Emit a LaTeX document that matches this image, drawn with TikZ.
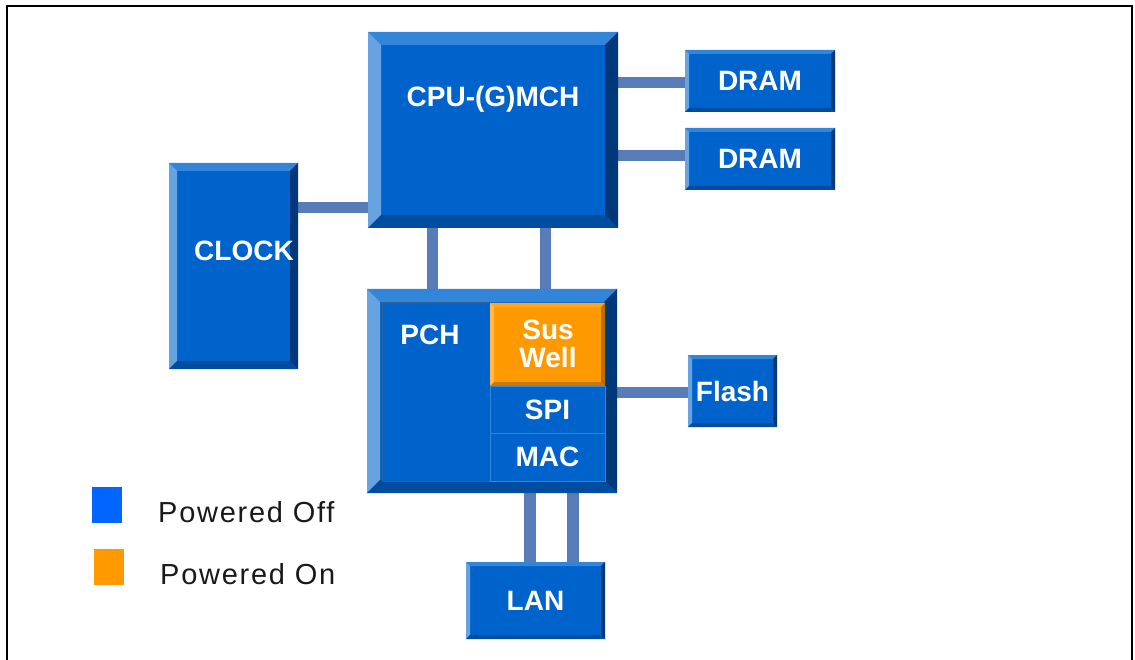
\documentclass[tikz,border=0pt]{standalone}
\usepackage{fontspec}
\setmainfont{Liberation Sans}
\newfontfamily\legfont[LetterSpace=6.0]{Liberation Sans}
\usetikzlibrary{calc}
\pgfdeclarelayer{connl}
\pgfdeclarelayer{boxl}
\pgfsetlayers{connl,boxl,main}
\definecolor{bface}{RGB}{0,99,204}
\definecolor{btop}{RGB}{51,133,217}
\definecolor{bleft}{RGB}{102,163,224}
\definecolor{bright}{RGB}{0,56,122}
\definecolor{bbot}{RGB}{0,77,160}
\definecolor{oface}{RGB}{255,153,0}
\definecolor{otop}{RGB}{255,165,30}
\definecolor{oleft}{RGB}{255,185,80}
\definecolor{oright}{RGB}{185,110,0}
\definecolor{obot}{RGB}{200,120,0}
\definecolor{connc}{RGB}{88,124,184}
\definecolor{legblue}{RGB}{0,102,255}
\definecolor{legorange}{RGB}{255,153,0}
% #1 node name, #2 bevel width, #3 face, #4 top, #5 left, #6 right, #7 bottom
\newcommand\bevelbox[7]{%
  \begin{pgfonlayer}{boxl}
    \fill[#3] (#1.north west) rectangle (#1.south east);
    \fill[#4] (#1.north west) -- (#1.north east) -- ($(#1.north east)+(-#2,#2)$) -- ($(#1.north west)+(#2,#2)$) -- cycle;
    \fill[#5] (#1.north west) -- ($(#1.north west)+(#2,#2)$) -- ($(#1.south west)+(#2,-#2)$) -- (#1.south west) -- cycle;
    \fill[#6] (#1.north east) -- (#1.south east) -- ($(#1.south east)+(-#2,-#2)$) -- ($(#1.north east)+(-#2,#2)$) -- cycle;
    \fill[#7] (#1.south west) -- ($(#1.south west)+(#2,-#2)$) -- ($(#1.south east)+(-#2,-#2)$) -- (#1.south east) -- cycle;
  \end{pgfonlayer}}
\newcommand\bluebox[2]{\bevelbox{#1}{#2}{bface}{btop}{bleft}{bright}{bbot}}
\tikzset{
  box/.style={rectangle, inner sep=0pt, outer sep=0pt, anchor=north west,
    text=white, font=\bfseries\fontsize{28}{28}\selectfont},
  lbl/.style={text=white, inner sep=0pt, font=\bfseries\fontsize{28}{28}\selectfont},
  conn/.style={draw=connc, line width=11pt},
  legsq/.style={rectangle, inner sep=0pt, minimum width=30pt, minimum height=36pt},
  legtxt/.style={anchor=west, inner sep=0pt, text=black!90, font=\legfont\fontsize{29}{32}\selectfont}
}
\begin{document}
\begin{tikzpicture}[x=1pt, y=-1pt]
\useasboundingbox (0,0) rectangle (1135,660);
\draw[line width=1.8pt] (7,662) -- (7,6) -- (1132,6) -- (1132,662);

% nodes
\node[box, minimum width=250, minimum height=196] (cpu) at (368,32) {};
\node[lbl] (cputxt) at (493,99) {CPU-(G)MCH};
\node[box, minimum width=150, minimum height=62] (dram1) at (685,50) {DRAM};
\node[box, minimum width=150, minimum height=62] (dram2) at (685,128) {DRAM};
\node[box, minimum width=129, minimum height=206] (clock) at (169,163) {};
\node[lbl] (clocktxt) at (244,251) {CLOCK};
\node[box, minimum width=250, minimum height=204] (pch) at (367,289) {};
\node[box, minimum width=108, minimum height=178] (pchl) at (382,303) {};
\node[lbl] (pchtxt) at (430,335) {PCH};
\node[box, minimum width=115, minimum height=83] (sus) at (490,303) {};
\node[lbl, align=center] (sustxt) at (548,344) {Sus\\Well};
\node[box, minimum width=115, minimum height=47] (spi) at (490,386) {SPI};
\node[box, minimum width=115, minimum height=48] (mac) at (490,433) {MAC};
\node[box, minimum width=89, minimum height=72] (flash) at (688,355) {Flash};
\node[box, minimum width=139, minimum height=77] (lan) at (466,562) {LAN};

% legend
\node[legsq, fill=legblue] (lgb) at (107,505) {};
\node[legsq, fill=legorange] (lgo) at (108.5,567) {};
\node[legtxt] (lgbt) at (158,512) {Powered Off};
\node[legtxt] (lgot) at (160,574) {Powered On};

% boxes
\bluebox{cpu}{13}
\bluebox{dram1}{4}
\bluebox{dram2}{4}
\bluebox{clock}{8}
\bluebox{pch}{13}
\bluebox{flash}{4}
\bluebox{lan}{4}
\begin{pgfonlayer}{boxl}
  \draw[draw=bright!80, line width=1pt, fill=bface] (pchl.north west) rectangle (pchl.south east);
\end{pgfonlayer}
\bevelbox{sus}{4}{oface}{otop}{oleft}{oright}{obot}
\begin{pgfonlayer}{boxl}
  \draw[draw=btop, line width=1pt, fill=bface] (spi.north west) rectangle (spi.south east);
  \draw[draw=btop, line width=1pt, fill=bface] (mac.north west) rectangle (mac.south east);
\end{pgfonlayer}

% connectors
\coordinate (ck) at (330,208);
\coordinate (v1) at (432,260);
\coordinate (v2) at (545,260);
\coordinate (l1) at (530,530);
\coordinate (l2) at (573,530);
\coordinate (d1) at (650,83);
\coordinate (d2) at (650,156);
\coordinate (fl) at (650,392);
\begin{pgfonlayer}{connl}
  \draw[conn] (clock.east |- ck) -- (cpu.west |- ck);
  \draw[conn] (cpu.east |- d1) -- (dram1.west |- d1);
  \draw[conn] (cpu.east |- d2) -- (dram2.west |- d2);
  \draw[conn] (cpu.south -| v1) -- (pch.north -| v1);
  \draw[conn] (cpu.south -| v2) -- (pch.north -| v2);
  \draw[conn] (pch.east |- fl) -- (flash.west |- fl);
  \draw[conn, line width=12pt] (pch.south -| l1) -- (lan.north -| l1);
  \draw[conn, line width=12pt] (pch.south -| l2) -- (lan.north -| l2);
\end{pgfonlayer}
\end{tikzpicture}
\end{document}
